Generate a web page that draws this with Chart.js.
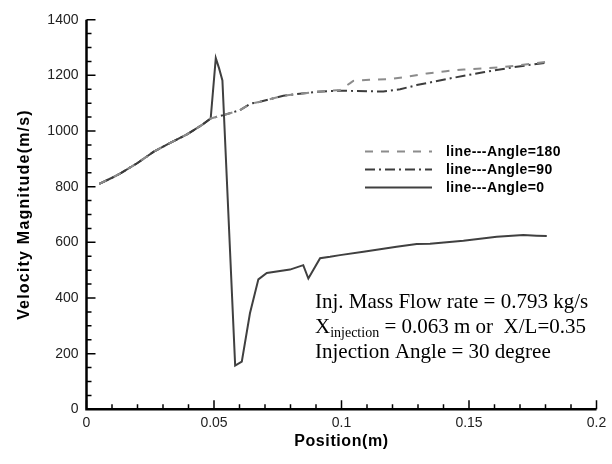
<!DOCTYPE html>
<html>
<head>
<meta charset="utf-8">
<script src="https://cdn.jsdelivr.net/npm/chart.js@4.4.0/dist/chart.umd.min.js"></script>
<style>
html,body{margin:0;padding:0;background:#fff;}
#wrap{width:612px;height:464px;position:relative;}
</style>
</head>
<body>
<div id="wrap"><canvas id="c" width="612" height="464"></canvas></div>
<script>
// ---- data ----
const pos0 = [0.005,0.010,0.0133,0.020,0.0264,0.033,0.0394,0.045,0.0487,0.0507,0.052,0.0533,0.0583,0.0609,0.0641,0.0674,0.0707,0.0798,0.085,0.087,0.0916,0.0955,0.0994,0.1086,0.1216,0.1295,0.1347,0.1478,0.1609,0.1713,0.1765,0.1805];
const vel0 = [810,832,848,885,926,958,988,1020,1045,1262,1225,1182,157,171,345,467,490,502,518,470,543,548,554,566,584,594,595,606,620,626,624,623];

const pos90 = [0.005,0.010,0.0133,0.020,0.0264,0.033,0.0394,0.045,0.0487,0.0537,0.0602,0.0642,0.068,0.0772,0.0903,0.0994,0.1164,0.123,0.1295,0.1425,0.1556,0.1687,0.180];
const vel90 = [810,832,848,885,926,958,988,1020,1045,1057,1075,1098,1105,1127,1141,1145,1142,1150,1165,1189,1211,1231,1245];

const pos180 = [0.005,0.010,0.0133,0.020,0.0264,0.033,0.0394,0.045,0.0487,0.0537,0.0602,0.0642,0.068,0.0772,0.0903,0.0994,0.1034,0.1046,0.111,0.119,0.1256,0.1335,0.141,0.148,0.1556,0.1635,0.175,0.180];
const vel180 = [810,832,848,885,926,958,988,1020,1045,1057,1075,1098,1105,1127,1141,1147,1172,1180,1184,1187,1195,1207,1215,1221,1225,1230,1242,1248];

const seriesNames = ['line---Angle=180','line---Angle=90','line---Angle=0'];
const xTitle = 'Position(m)';
const yTitle = 'Velocity Magnitude(m/s)';
const xMin = 0, xMax = 0.2, xStep = 0.05, xMinorStep = 0.01;
const yMin = 0, yMax = 1400, yStep = 200, yMinorStep = 50;

const toXY = (xs, ys) => xs.map((x, i) => ({x: x, y: ys[i]}));

const styles = [
  {color:'#8c8c8c', dash:[8,8]},
  {color:'#3c3c3c', dash:[10,4,2,4]},
  {color:'#404040', dash:[]}
];

const overlay = {
  id: 'overlay',
  afterDraw(chart) {
    const ctx = chart.ctx;
    const xs = chart.scales.x, ys = chart.scales.y;
    const L = xs.left, R = xs.right, T = ys.top, B = ys.bottom;
    ctx.save();
    // axes
    ctx.strokeStyle = '#000';
    ctx.lineWidth = 2.5;
    ctx.setLineDash([]);
    ctx.beginPath();
    ctx.moveTo(L, T); ctx.lineTo(L, B); ctx.lineTo(R, B);
    ctx.stroke();
    // ticks (inward)
    ctx.lineWidth = 1.5;
    ctx.beginPath();
    for (let v = yMin; v <= yMax + 1e-9; v += yMinorStep) {
      const py = ys.getPixelForValue(v);
      const major = Math.abs((v / yStep) - Math.round(v / yStep)) < 1e-6;
      ctx.moveTo(L, py); ctx.lineTo(L + (major ? 9 : 5), py);
    }
    for (let k = 0; k <= Math.round((xMax - xMin) / xMinorStep); k++) {
      const v = xMin + k * xMinorStep;
      const px = xs.getPixelForValue(v);
      const major = k % Math.round(xStep / xMinorStep) === 0;
      ctx.moveTo(px, B); ctx.lineTo(px, B - (major ? 9 : 5));
    }
    ctx.stroke();

    // axis titles
    ctx.fillStyle = '#000';
    ctx.font = 'bold 16px "Liberation Sans", Arial, sans-serif';
    ctx.letterSpacing = '0.6px';
    ctx.textAlign = 'center';
    ctx.textBaseline = 'middle';
    ctx.fillText(xTitle, (L + R) / 2, 442);
    ctx.save();
    ctx.translate(25, (T + B) / 2);
    ctx.rotate(-Math.PI / 2);
    ctx.font = 'bold 16px "Liberation Sans", Arial, sans-serif';
    ctx.letterSpacing = '1.2px';
    ctx.fillText(yTitle, 0, 0);
    ctx.restore();
    ctx.letterSpacing = '0px';

    // legend
    const lx0 = 365, lx1 = 432, tx = 446;
    const ly = [151.5, 169.5, 187.5];
    ctx.font = 'bold 14px "Liberation Sans", Arial, sans-serif';
    ctx.textAlign = 'left';
    ctx.textBaseline = 'middle';
    ctx.letterSpacing = '0.4px';
    for (let i = 0; i < 3; i++) {
      ctx.strokeStyle = styles[i].color;
      ctx.lineWidth = 2;
      ctx.setLineDash(styles[i].dash);
      ctx.beginPath();
      ctx.moveTo(lx0, ly[i]); ctx.lineTo(lx1, ly[i]);
      ctx.stroke();
      ctx.fillStyle = '#000';
      ctx.fillText(seriesNames[i], tx, ly[i] + 0.5);
    }
    ctx.setLineDash([]);
    ctx.letterSpacing = '0px';

    // annotation
    ctx.fillStyle = '#000';
    ctx.textBaseline = 'alphabetic';
    const big = '21px "Liberation Serif", "Times New Roman", serif';
    const small = '14px "Liberation Serif", "Times New Roman", serif';
    const ax = 315;
    ctx.font = big;
    ctx.fillText('Inj. Mass Flow rate = 0.793 kg/s', ax, 308);
    let x = ax;
    ctx.fillText('X', x, 333); x += ctx.measureText('X').width;
    ctx.font = small;
    ctx.fillText('injection', x, 337); x += ctx.measureText('injection').width;
    ctx.font = big;
    ctx.fillText(' = 0.063 m or  X/L=0.35', x, 333);
    ctx.fillText('Injection Angle = 30 degree', ax, 358);
    ctx.restore();
  }
};

new Chart(document.getElementById('c'), {
  type: 'scatter',
  data: {
    datasets: [
      {label: seriesNames[0], data: toXY(pos180, vel180), showLine: true, borderColor: styles[0].color, borderDash: styles[0].dash, borderWidth: 2, pointRadius: 0, tension: 0},
      {label: seriesNames[1], data: toXY(pos90, vel90), showLine: true, borderColor: styles[1].color, borderDash: styles[1].dash, borderWidth: 2, pointRadius: 0, tension: 0},
      {label: seriesNames[2], data: toXY(pos0, vel0), showLine: true, borderColor: styles[2].color, borderDash: styles[2].dash, borderWidth: 2, pointRadius: 0, tension: 0}
    ]
  },
  options: {
    responsive: false,
    animation: false,
    devicePixelRatio: 1,
    layout: {padding: {top: 19.7, right: 15.5, left: 0, bottom: 0}},
    plugins: {legend: {display: false}, tooltip: {enabled: false}},
    scales: {
      x: {
        type: 'linear', min: xMin, max: xMax,
        grid: {display: false, drawTicks: false, tickLength: 0}, border: {display: false},
        ticks: {stepSize: xStep, padding: 5, color: '#222', maxRotation: 0,
          font: {family: '"Liberation Sans", Arial, sans-serif', size: 14},
          callback: v => String(Math.round(v * 100) / 100)},
        afterFit: s => { s.height = 54.7; }
      },
      y: {
        type: 'linear', min: yMin, max: yMax,
        grid: {display: false, drawTicks: false, tickLength: 0}, border: {display: false},
        ticks: {stepSize: yStep, padding: 8, color: '#222',
          font: {family: '"Liberation Sans", Arial, sans-serif', size: 14},
          callback: v => String(v)},
        afterFit: s => { s.width = 86.5; }
      }
    }
  },
  plugins: [overlay]
});
</script>
</body>
</html>
